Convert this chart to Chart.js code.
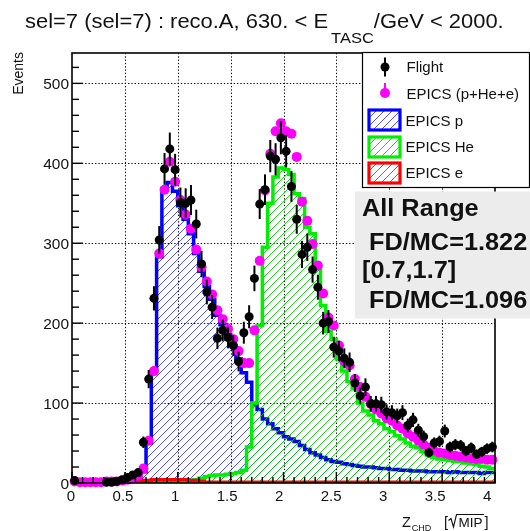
<!DOCTYPE html>
<html>
<head>
<meta charset="utf-8">
<script src="https://cdn.jsdelivr.net/npm/chart.js@4/dist/chart.umd.min.js"></script>
<style>
  html, body { margin: 0; padding: 0; background: #fff; }
  canvas { display: block; }
</style>
</head>
<body>
<canvas id="c" width="530" height="531" style="width:530px;height:531px"></canvas>
<script>
// Z_CHD histogram binning: 80 bins of 0.05 from 0 to 4
const binLow = 0;
const binWidth = 0.05;
const nBins = 80;

// Flight data (events per bin); null = empty bin, not drawn
const flight = [
  3, null, null, null, null, null, 1, 1, 2, 4,
  7, 10, 13, 51, 130, 231, 304, 393, 418, 392,
  351, 350, 354, 324, 274, 239, 220, 181, 191, 182,
  172, 152, 188, 208, 256, 349, 367, 409, 405, 432,
  415, 371, 330, 286, 295, 267, 245, 200, 202, 170,
  165, 156, 151, 125, 109, 120, 99, 99, 98, 89,
  88, 84, 88, 72, 79, 66, 58, 38, 50, 52,
  65, 45, 48, 47, 40, 44, 36, 39, 43, 45
];

// EPICS total (p+He+e)
const epicsSum = [
  2, 1, 1, 1, 1, 1, 2, 2, 2, 3,
  4, 6, 9, 18, 53, 140, 287, 367, 402, 377,
  354, 336, 318, 292, 270, 252, 236, 216, 205, 193,
  180, 165, 150, 150, 191, 278, 366, 412, 440, 450,
  440, 437, 408, 352, 328, 299, 272, 237, 207, 197,
  172, 152, 147, 130, 120, 108, 99, 92, 87, 81,
  78, 72, 68, 62, 58, 53, 48, 44, 40, 38,
  37, 35, 34, 33, 32, 31, 30, 30, 29, 29
];

// EPICS proton component
const epicsP = [
  0, 0, 0, 0, 0, 0, 0, 0, 0, 1,
  2, 4, 7, 14, 50, 140, 283, 368, 376, 365,
  347, 330, 312, 287, 265, 246, 230, 210, 198, 186,
  172, 155, 138, 126, 98, 92, 80, 74, 68, 63,
  58, 55, 52, 47, 42, 38, 35, 32, 29, 27,
  26, 24, 23, 22, 21, 20, 20, 19, 18, 18,
  17, 17, 16, 16, 15, 15, 15, 14, 14, 14,
  14, 13, 14, 13, 13, 13, 13, 12, 13, 13
];

// EPICS helium component
const epicsHe = [
  0, 0, 0, 0, 0, 0, 0, 0, 0, 0,
  0, 0, 0, 0, 0, 0, 1, 2, 2, 2,
  2, 3, 3, 4, 6, 8, 9, 10, 10, 11,
  12, 13, 16, 45, 100, 197, 295, 350, 383, 394,
  392, 386, 362, 356, 320, 312, 268, 222, 190, 180,
  155, 140, 127, 118, 100, 90, 85, 78, 74, 68,
  64, 59, 55, 50, 46, 44, 39, 35, 32, 30,
  29, 28, 27, 27, 25, 24, 23, 21, 20, 18
];

// EPICS electron component
const epicsE = [
  0, 0, 0, 0, 0, 0, 0, 0, 0, 0,
  1, 1, 2, 3, 3, 4, 4, 4, 4, 4,
  4, 4, 3, 3, 2, 1, 1, 1, 1, 1,
  1, 1, 1, 1, 1, 1, 1, 1, 1, 1,
  1, 1, 1, 1, 1, 1, 1, 1, 1, 1,
  1, 1, 1, 1, 1, 1, 1, 1, 1, 1,
  1, 1, 1, 1, 1, 1, 1, 1, 1, 1,
  1, 1, 1, 1, 1, 1, 1, 1, 1, 1
];

// Axis ticks and labels
const xMajorTicks = [0, 0.5, 1, 1.5, 2, 2.5, 3, 3.5, 4];
const xTickLabels = ['0', '0.5', '1', '1.5', '2', '2.5', '3', '3.5', '4'];
const xMinorStep = 0.1;
const yMajorTicks = [0, 100, 200, 300, 400, 500];
const yTickLabels = ['0', '100', '200', '300', '400', '500'];
const yMinorStep = 20;
const yMax = 538;

// Legend entries and ratio box text
const legendLabels = ['Flight', 'EPICS (p+He+e)', 'EPICS p', 'EPICS He', 'EPICS e'];
const statLines = ['All Range', ' FD/MC=1.822', '[0.7,1.7]', ' FD/MC=1.096'];

const FONT = '"Liberation Sans", Arial, Helvetica, sans-serif';

const edges = Array.from({ length: nBins + 1 }, (_, k) => +(binLow + k * binWidth).toFixed(4));
const centers = Array.from({ length: nBins }, (_, i) => +(binLow + (i + 0.5) * binWidth).toFixed(4));

function histPoints(vals) {
  const pts = vals.map((v, i) => ({ x: edges[i], y: v }));
  pts.push({ x: edges[nBins], y: vals[nBins - 1] });
  return pts;
}
function markerPoints(vals) {
  return vals.map((v, i) => ({ x: centers[i], y: v }));
}

const colP = '#0000ff', colHe = '#00ee00', colE = '#ff0000', colSum = '#ff00ff';
const hatchP = 'rgba(40,40,255,0.8)';
const hatchHe = 'rgba(0,205,0,0.85)';
const hatchE = 'rgba(255,0,0,0.8)';

// diagonal "///" hatching inside the current clip region
function strokeHatch(ctx, color, x0, y0, x1, y1) {
  const step = 8;
  const h = y1 - y0;
  ctx.strokeStyle = color;
  ctx.lineWidth = 1;
  ctx.beginPath();
  for (let c = x0 - h - step; c < x1 + step; c += step) {
    ctx.moveTo(c, y1);
    ctx.lineTo(c + h, y0);
  }
  ctx.stroke();
}

function drawText(ctx, s, x, y, size, opts = {}) {
  ctx.save();
  ctx.font = (opts.bold ? 'bold ' : '') + size + 'px ' + FONT;
  ctx.fillStyle = opts.color || '#000';
  ctx.textBaseline = opts.baseline || 'alphabetic';
  ctx.textAlign = 'left';
  const sx = opts.sx || 1;
  const w = ctx.measureText(s).width * sx;
  let x0 = x;
  if (opts.align === 'right') x0 = x - w;
  else if (opts.align === 'center') x0 = x - w / 2;
  ctx.translate(x0, y);
  ctx.scale(sx, 1);
  ctx.fillText(s, 0, 0);
  ctx.restore();
  return w;
}

const rootStyle = {
  id: 'rootStyle',
  beforeDraw(chart) {
    const ctx = chart.ctx;
    ctx.save();
    ctx.fillStyle = '#fff';
    ctx.fillRect(0, 0, chart.width, chart.height);
    ctx.restore();
  },
  beforeDatasetsDraw(chart) {
    // dotted grid at major ticks
    const { ctx, chartArea: a, scales: { x, y } } = chart;
    ctx.save();
    ctx.strokeStyle = '#000';
    ctx.lineWidth = 1;
    ctx.setLineDash([1.3, 2]);
    xMajorTicks.forEach(v => {
      if (v <= 0 || v >= 4) return;
      const px = Math.round(x.getPixelForValue(v)) + 0.5;
      ctx.beginPath(); ctx.moveTo(px, a.top); ctx.lineTo(px, a.bottom); ctx.stroke();
    });
    yMajorTicks.forEach(v => {
      if (v <= 0) return;
      const py = Math.round(y.getPixelForValue(v)) + 0.5;
      ctx.beginPath(); ctx.moveTo(a.left, py); ctx.lineTo(a.right, py); ctx.stroke();
    });
    ctx.restore();
  },
  beforeDatasetDraw(chart, args) {
    const ds = chart.data.datasets[args.index];
    const { ctx, chartArea: a, scales: { x, y } } = chart;

    // hatched fill under a step histogram, clipped to its outline
    if (ds.hatchColor) {
      const pts = chart.getDatasetMeta(args.index).data;
      const y0 = y.getPixelForValue(0);
      ctx.save();
      ctx.beginPath();
      ctx.moveTo(pts[0].x, y0);
      for (let i = 0; i < pts.length - 1; i++) {
        ctx.lineTo(pts[i].x, pts[i].y);
        ctx.lineTo(pts[i + 1].x, pts[i].y);
      }
      ctx.lineTo(pts[pts.length - 1].x, y0);
      ctx.closePath();
      ctx.clip();
      strokeHatch(ctx, ds.hatchColor, a.left, a.top, a.right, a.bottom);
      ctx.restore();
    }

    // Poisson error bars on the flight points, under their markers
    if (ds.errorBars === 'sqrt') {
      ctx.save();
      ctx.strokeStyle = '#000';
      ctx.lineWidth = 2;
      ds.data.forEach(p => {
        if (p.y == null || p.y <= 0) return;
        const e = Math.sqrt(p.y);
        const px = x.getPixelForValue(p.x);
        ctx.beginPath();
        ctx.moveTo(px, y.getPixelForValue(p.y - e));
        ctx.lineTo(px, y.getPixelForValue(Math.min(p.y + e, yMax)));
        ctx.stroke();
      });
      ctx.restore();
    }
  },
  afterDatasetsDraw(chart) {
    const { ctx, chartArea: a, scales: { x, y } } = chart;
    ctx.save();
    // frame
    ctx.strokeStyle = '#000';
    ctx.lineWidth = 1.6;
    ctx.strokeRect(a.left, a.top, a.right - a.left, a.bottom - a.top);
    // x ticks
    ctx.lineWidth = 1.4;
    for (let v = 0; v <= 4 + 1e-9; v += xMinorStep) {
      const vv = Math.round(v * 10) / 10;
      const major = Math.abs(vv * 2 - Math.round(vv * 2)) < 1e-6;
      const px = x.getPixelForValue(vv);
      ctx.beginPath(); ctx.moveTo(px, a.bottom); ctx.lineTo(px, a.bottom - (major ? 11 : 6)); ctx.stroke();
    }
    // y ticks
    for (let v = 0; v <= yMax; v += yMinorStep) {
      const major = v % 100 === 0;
      const py = y.getPixelForValue(v);
      ctx.beginPath(); ctx.moveTo(a.left, py); ctx.lineTo(a.left + (major ? 11 : 7), py); ctx.stroke();
    }
    ctx.restore();
  },
  afterDraw(chart) {
    const { ctx, chartArea: a, scales: { x, y } } = chart;

    // tick labels
    xMajorTicks.forEach((v, i) => {
      drawText(ctx, xTickLabels[i], x.getPixelForValue(v) - (1 + 1.7 * v), a.bottom + 18, 15, { align: 'center', color: '#111' });
    });
    yMajorTicks.forEach((v, i) => {
      drawText(ctx, yTickLabels[i], a.left - 3, y.getPixelForValue(v) + 5.5, 15, { align: 'right', color: '#111', sx: 1.03 });
    });

    // axis titles
    ctx.save();
    ctx.translate(23, a.top - 1);
    ctx.rotate(-Math.PI / 2);
    ctx.font = '14px ' + FONT;
    ctx.fillStyle = '#111';
    ctx.textAlign = 'right';
    ctx.textBaseline = 'alphabetic';
    ctx.fillText('Events', 0, 0);
    ctx.restore();

    let tx = 402;
    tx += drawText(ctx, 'Z', tx, 527, 14.5, { color: '#111' });
    drawText(ctx, 'CHD', tx + 1, 531, 9, { color: '#111' });
    drawText(ctx, '[', 444, 527, 14.5, { color: '#111' });
    ctx.save();
    ctx.strokeStyle = '#111';
    ctx.lineWidth = 1.1;
    ctx.beginPath();
    ctx.moveTo(448.5, 520.5); ctx.lineTo(451, 518.5); ctx.lineTo(453.5, 527);
    ctx.lineTo(456.5, 514.5); ctx.lineTo(484, 514.5);
    ctx.stroke();
    ctx.restore();
    drawText(ctx, 'MIP', 458.5, 527, 13.5, { color: '#111' });
    drawText(ctx, ']', 484.5, 527, 14.5, { color: '#111' });

    // title
    let hx = 25;
    hx += drawText(ctx, 'sel=7 (sel=7) : reco.A, 630. < E', hx, 27.5, 19.5, { sx: 1.125, color: '#111' });
    hx += 3;
    hx += drawText(ctx, 'TASC', hx, 42.5, 15, { sx: 1.1, color: '#111' });
    drawText(ctx, '/GeV < 2000.', hx, 27.5, 19.5, { sx: 1.125, color: '#111' });

    // legend
    ctx.save();
    ctx.fillStyle = '#fff';
    ctx.fillRect(362, 52, 167.5, 135);
    ctx.strokeStyle = '#000';
    ctx.lineWidth = 1.2;
    ctx.strokeRect(362.5, 52.5, 167, 135);
    // Flight marker
    ctx.strokeStyle = '#000'; ctx.lineWidth = 2;
    ctx.beginPath(); ctx.moveTo(385, 57.5); ctx.lineTo(385, 76.5); ctx.stroke();
    ctx.fillStyle = '#000';
    ctx.beginPath(); ctx.arc(385, 67, 4.5, 0, Math.PI * 2); ctx.fill();
    // EPICS total marker
    ctx.strokeStyle = colSum; ctx.lineWidth = 2;
    ctx.beginPath(); ctx.moveTo(385, 83); ctx.lineTo(385, 97); ctx.stroke();
    ctx.fillStyle = colSum;
    ctx.beginPath(); ctx.arc(385, 93, 5, 0, Math.PI * 2); ctx.fill();
    // component boxes
    [[colP, hatchP, 110], [colHe, hatchHe, 137], [colE, hatchE, 163]].forEach(([c, h, top]) => {
      ctx.save();
      ctx.beginPath();
      ctx.rect(369, top, 31, 20);
      ctx.clip();
      strokeHatch(ctx, h, 369, top, 400, top + 20);
      ctx.restore();
      ctx.strokeStyle = c; ctx.lineWidth = 3.2;
      ctx.strokeRect(369, top, 31, 20);
    });
    ctx.restore();
    const legY = [72, 98.5, 125.5, 152, 178];
    const legX = [406.5, 406.5, 405.5, 405.5, 405.5];
    legendLabels.forEach((s, i) => drawText(ctx, s, legX[i], legY[i], 15, { color: '#111' }));

    // ratio box
    ctx.save();
    ctx.fillStyle = '#ececec';
    ctx.fillRect(355, 191.5, 175, 127);
    ctx.restore();
    const stY = [216, 249.5, 277.5, 308];
    statLines.forEach((s, i) => drawText(ctx, s, 362, stY[i], 23, { bold: true, sx: 1.1, color: '#111' }));
  }
};

const datasets = [
  {
    label: legendLabels[0], data: markerPoints(flight), showLine: false,
    pointRadius: 4.5, pointBackgroundColor: '#000', pointBorderWidth: 0,
    errorBars: 'sqrt', order: 0, clip: false
  },
  {
    label: legendLabels[1], data: markerPoints(epicsSum), showLine: false,
    pointRadius: 5, pointBackgroundColor: colSum, pointBorderWidth: 0,
    order: 1, clip: false
  },
  {
    label: legendLabels[4], data: histPoints(epicsE), stepped: 'before',
    borderColor: colE, borderWidth: 3.5, hatchColor: hatchE, fill: false,
    pointRadius: 0, order: 2
  },
  {
    label: legendLabels[3], data: histPoints(epicsHe), stepped: 'before',
    borderColor: colHe, borderWidth: 3.5, hatchColor: hatchHe, fill: false,
    pointRadius: 0, order: 3
  },
  {
    label: legendLabels[2], data: histPoints(epicsP), stepped: 'before',
    borderColor: colP, borderWidth: 3.5, hatchColor: hatchP, fill: false,
    pointRadius: 0, order: 4
  }
];

new Chart(document.getElementById('c'), {
  type: 'line',
  data: { datasets },
  options: {
    responsive: false,
    animation: false,
    devicePixelRatio: 1,
    layout: { padding: { left: 72, right: 35, top: 53, bottom: 48 } },
    scales: {
      x: { type: 'linear', min: 0, max: 4, display: false },
      y: { type: 'linear', min: 0, max: yMax, display: false }
    },
    plugins: {
      legend: { display: false },
      title: { display: false },
      tooltip: { enabled: false }
    },
    elements: { line: { tension: 0 } }
  },
  plugins: [rootStyle]
});
</script>
</body>
</html>
